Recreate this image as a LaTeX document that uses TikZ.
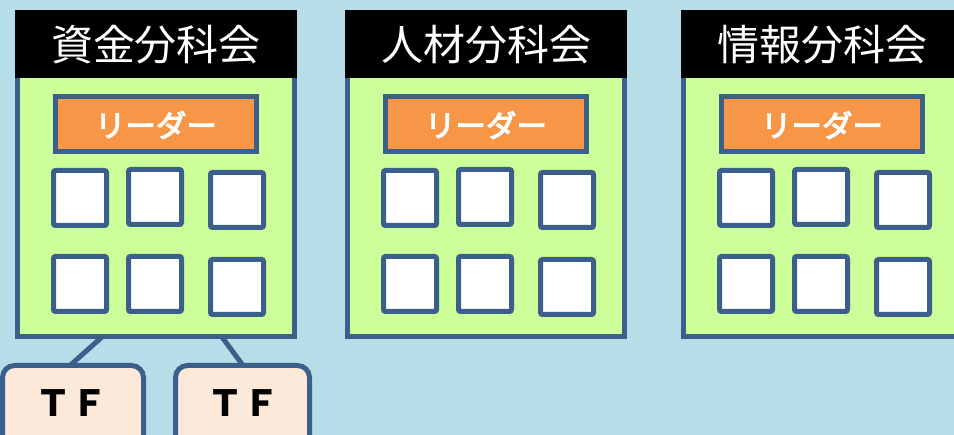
\documentclass[tikz,border=0pt]{standalone}
\usepackage{fontspec}
\newfontfamily\jp{Noto Sans CJK JP}
\newfontfamily\jpm[FakeBold=3.5]{Noto Sans CJK JP}
\definecolor{bgblue}{HTML}{B7DEE8}
\definecolor{panelgreen}{HTML}{CCFF99}
\definecolor{leaderorange}{HTML}{F79646}
\definecolor{edgeblue}{HTML}{3A5F8B}
\definecolor{tfpink}{HTML}{FDE9D9}
\tikzset{
  every node/.style={outer sep=0pt},
  panel/.style={draw=edgeblue, fill=panelgreen, line width=5pt, anchor=north west, minimum width=277pt, minimum height=270pt, inner sep=0pt},
  header/.style={fill=black, anchor=north west, minimum width=282pt, minimum height=68pt, inner sep=0pt},
  leader/.style={draw=edgeblue, fill=leaderorange, line width=5pt, anchor=north west, minimum width=201pt, minimum height=55pt, inner sep=0pt},
  member/.style={draw=edgeblue, fill=white, line width=5pt, anchor=north west, minimum width=53pt, minimum height=55pt, inner sep=0pt, rounded corners=2pt},
  tfbox/.style={draw=edgeblue, fill=tfpink, line width=5pt, anchor=north west, minimum height=90pt, inner sep=0pt, rounded corners=12pt},
  tftext/.style={inner sep=0pt, font=\jp\bfseries\fontsize{36}{36}\selectfont},
  titletext/.style={text=white, inner sep=0pt, font=\jp\fontsize{42}{42}\selectfont},
  leadertext/.style={text=white, inner sep=0pt, font=\jpm\fontsize{30.5}{30.5}\selectfont},
  link/.style={draw=edgeblue, line width=5pt}
}
\begin{document}
\begin{tikzpicture}[x=1pt,y=-1pt]
\useasboundingbox (0,0) rectangle (954,435);
\clip (0,0) rectangle (954,435);
\fill[bgblue] (-5,-5) rectangle (960,440);
% connectors behind
\coordinate (c1) at (102,337);
\coordinate (c2) at (222,337);
\coordinate (t1) at (70,365.5);
\coordinate (t2) at (243,365.5);
\draw[link] (c1) -- (t1);
\draw[link] (c2) -- (t2);
\node[tfbox, minimum width=141pt] (tf1) at (2.5,365.5) {};
\node[tfbox, minimum width=134pt] (tf2) at (175.5,365.5) {};
\node[tftext] (tft1) at (71,403) {ＴＦ};
\node[tftext] (tft2) at (243,403) {ＴＦ};
\foreach \g/\ox/\title in {1/15/資金分科会, 2/345/人材分科会, 3/681/情報分科会}{
  \node[panel] (p\g) at (\ox+2.5,67) {};
  \node[header] (h\g) at (\ox,10) {};
  \node[titletext] (ht\g) at (\ox+141,45) {\title};
  \node[leader] (l\g) at (\ox+40.5,96.5) {};
  \node[leadertext] (lt\g) at (\ox+141,125) {リーダー};
  \node[member] (m\g a) at (\ox+38.5,170.5) {};
  \node[member] (m\g b) at (\ox+113.5,169.5) {};
  \node[member] (m\g c) at (\ox+195.5,172.5) {};
  \node[member] (m\g d) at (\ox+38.5,256.5) {};
  \node[member] (m\g e) at (\ox+113.5,256.5) {};
  \node[member] (m\g f) at (\ox+195.5,259.5) {};
}
\end{tikzpicture}
\end{document}
